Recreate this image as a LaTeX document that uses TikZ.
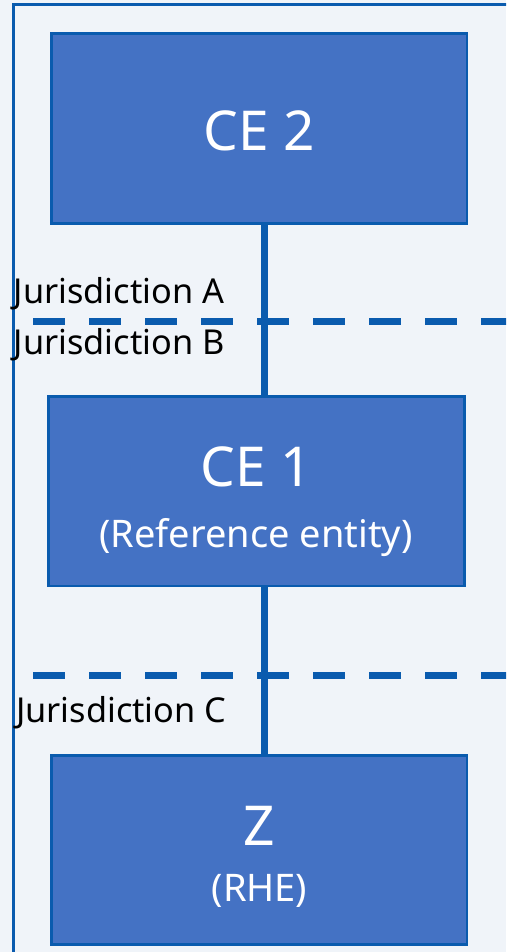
\documentclass[tikz,border=0pt]{standalone}
\usepackage{fontspec}
\setmainfont{Noto Sans}
\definecolor{bg}{HTML}{F0F4F9}
\definecolor{lineblue}{HTML}{0A5BAE}
\definecolor{boxfill}{HTML}{4472C4}
\begin{document}
\begin{tikzpicture}[x=1pt,y=-1pt,
  entity/.style={draw=lineblue, line width=2.7pt, fill=boxfill,
    minimum width=415.7pt, minimum height=189.8pt, inner sep=0pt},
  link/.style={draw=lineblue, line width=7pt},
  frame/.style={draw=lineblue, line width=3pt},
  divider/.style={draw=lineblue, line width=7pt, dash pattern=on 32pt off 24pt},
  title/.style={text=white, font=\fontsize{55}{55}\selectfont, anchor=base, inner sep=0pt},
  subtitle/.style={text=white, font=\fontsize{38}{38}\selectfont, anchor=base, inner sep=0pt},
  zone/.style={text=black, font=\fontsize{34.3}{34.3}\selectfont, anchor=base west, inner sep=0pt}]

  % canvas and outer frame
  \useasboundingbox (0,0) rectangle (506,952);
  \clip (0,0) rectangle (506,952);
  \fill[bg] (0,0) rectangle (506,952);
  \draw[frame] (13.5,4.8) rectangle (530,980);

  % jurisdiction boundaries
  \draw[divider] (33,321.7) -- (530,321.7);
  \draw[divider] (33,675) -- (530,675);

  % entities
  \node[entity] (ce2) at (259.15,128.4) {};
  \node[entity] (ce1) at (256.65,491.2) {};
  \node[entity, minimum height=189pt] (z) at (259.15,850) {};

  % ownership links
  \coordinate (conn) at (264,0);
  \draw[link] (ce2.south -| conn) -- (ce1.north -| conn);
  \draw[link] (ce1.south -| conn) -- (z.north -| conn);

  % entity labels
  \node[title] (t2) at (259,151) {CE 2};
  \node[title] (t1) at (256,486) {CE 1};
  \node[subtitle] (s1) at (256,547) {(Reference entity)};
  \node[title] (tz) at (259.5,845) {Z};
  \node[subtitle] (sz) at (259.5,901) {(RHE)};

  % jurisdiction labels
  \node[zone] (ja) at (13.5,303.3) {Jurisdiction A};
  \node[zone] (jb) at (13.5,354) {Jurisdiction B};
  \node[zone] (jc) at (16,722.7) {Jurisdiction C};
\end{tikzpicture}
\end{document}
